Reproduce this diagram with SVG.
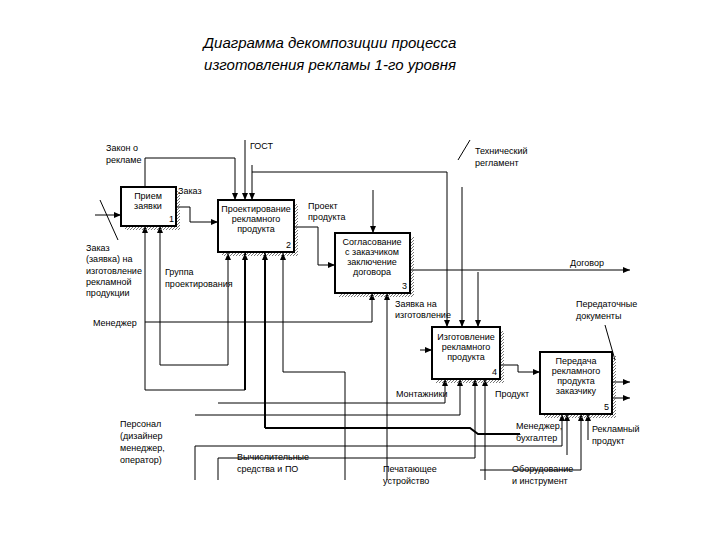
<svg xmlns="http://www.w3.org/2000/svg" width="720" height="540" viewBox="0 0 720 540">
<defs>
<pattern id="h" width="3" height="3" patternUnits="userSpaceOnUse"><path d="M0,3 L3,0" stroke="#555" stroke-width="0.8"/></pattern>
<marker id="a" markerWidth="8" markerHeight="8" refX="7" refY="4" orient="auto" markerUnits="userSpaceOnUse"><path d="M0,1 L7,4 L0,7 z" fill="#000"/></marker>
</defs>
<style>
.b{fill:#fff;stroke:#000;stroke-width:2}
.s{fill:url(#h)}
.t{font-family:"Liberation Sans",Arial,sans-serif;font-size:9px;fill:#000}
.c{text-anchor:middle}
.ttl{font-family:"Liberation Sans",Arial,sans-serif;font-size:15px;font-style:italic;text-anchor:middle}
.l{fill:none;stroke:#000;stroke-width:1}
.k{fill:none;stroke:#000;stroke-width:2}
.ar{marker-end:url(#a)}
</style>
<rect width="720" height="540" fill="#fff"/>
<text class="ttl" x="330" y="48">Диаграмма декомпозиции процесса</text>
<text class="ttl" x="330" y="70">изготовления рекламы 1-го уровня</text>

<g id="connectors">
<path class="l ar" d="M95,215 H121"/>
<path class="l" d="M100,200 L118,240"/>
<path class="l ar" d="M176,207 H190 V222 H218"/>
<path class="l ar" d="M145,187 V158 H235 V200"/>
<path class="l ar" d="M245,140 V200"/>
<path class="l ar" d="M252,172 H447 V327"/>
<path class="l ar" d="M252,165 V200"/>
<path class="l" d="M458,160 L470,140"/>
<path class="l ar" d="M462,187 V327"/>
<path class="l ar" d="M478,272 V327"/>
<path class="l ar" d="M294,227 H318 V265 H335"/>
<path class="l ar" d="M373,190 V233"/>
<path class="l ar" d="M410,270 H630"/>
<path class="l ar" d="M145,322 H372 V293"/>
<path class="l ar" d="M387,480 V293"/>
<path class="l ar" d="M145,390 V226"/>
<path class="l" d="M145,390 H245"/>
<path class="k ar" d="M245,390 V253"/>
<path class="l ar" d="M160,365 V226"/>
<path class="l" d="M160,365 H228"/>
<path class="l ar" d="M228,365 V253"/>
<path class="k ar" d="M265,428 V253"/>
<path class="k" d="M265,428 H470 L478,434 H520"/>
<path class="l ar" d="M283,372 V253"/>
<path class="l" d="M283,372 H345 V480"/>
<path class="l" d="M218,403 H445"/>
<path class="l ar" d="M445,403 V379"/>
<path class="l ar" d="M195,415 H460 V379"/>
<path class="l" d="M195,446 V480 M195,446 H562"/>
<path class="l ar" d="M562,446 V414"/>
<path class="l" d="M218,458 V480 M218,458 H475"/>
<path class="l ar" d="M475,458 V379"/>
<path class="l ar" d="M485,480 V379"/>
<path class="l ar" d="M480,470 H581 V414"/>
<path class="l ar" d="M588,440 V414"/>
<path class="l ar" d="M567,455 V414"/>
<path class="l ar" d="M420,350 H432"/>
<path class="l ar" d="M500,365 H518 V372 H540"/>
<path class="l ar" d="M612,382 H630"/>
<path class="l ar" d="M612,398 H630"/>
<path class="l" d="M605,325 L615,360"/>
</g>

<g id="n1"><rect class="s" x="125" y="191" width="55" height="39"/><rect class="b" x="121" y="187" width="55" height="39"/><text class="t c" x="148" y="199">Прием</text><text class="t c" x="148" y="209">заявки</text><text class="t" x="169" y="222">1</text></g>
<g id="n2"><rect class="s" x="222" y="204" width="76" height="52"/><rect class="b" x="218" y="200" width="76" height="52"/><text class="t c" x="256" y="212">Проектирование</text><text class="t c" x="256" y="222">рекламного</text><text class="t c" x="256" y="232">продукта</text><text class="t" x="286" y="248">2</text></g>
<g id="n3"><rect class="s" x="339" y="237" width="75" height="60"/><rect class="b" x="335" y="233" width="75" height="60"/><text class="t c" x="372" y="245">Согласование</text><text class="t c" x="372" y="255">с заказчиком</text><text class="t c" x="372" y="265">заключение</text><text class="t c" x="372" y="275">договора</text><text class="t" x="402" y="289">3</text></g>
<g id="n4"><rect class="s" x="436" y="331" width="68" height="52"/><rect class="b" x="432" y="327" width="68" height="52"/><text class="t c" x="466" y="340">Изготовление</text><text class="t c" x="466" y="350">рекламного</text><text class="t c" x="466" y="360">продукта</text><text class="t" x="492" y="375">4</text></g>
<g id="n5"><rect class="s" x="544" y="356" width="72" height="62"/><rect class="b" x="540" y="352" width="72" height="62"/><text class="t c" x="576" y="364">Передача</text><text class="t c" x="576" y="374">рекламного</text><text class="t c" x="576" y="384">продукта</text><text class="t c" x="576" y="394">заказчику</text><text class="t" x="604" y="410">5</text></g>

<g id="labels">
<text class="t" x="106" y="151">Закон о</text><text class="t" x="106" y="163">рекламе</text>
<text class="t" x="250" y="149">ГОСТ</text>
<text class="t" x="475" y="154">Технический</text><text class="t" x="475" y="166">регламент</text>
<text class="t" x="178" y="194">Заказ</text>
<text class="t" x="308" y="209">Проект</text><text class="t" x="308" y="220">продукта</text>
<text class="t" x="86" y="251">Заказ</text><text class="t" x="86" y="262">(заявка) на</text><text class="t" x="86" y="274">изготовление</text><text class="t" x="86" y="285">рекламной</text><text class="t" x="86" y="296">продукции</text>
<text class="t" x="165" y="275">Группа</text><text class="t" x="165" y="287">проектирования</text>
<text class="t" x="570" y="266">Договор</text>
<text class="t" x="395" y="307">Заявка на</text><text class="t" x="395" y="318">изготовление</text>
<text class="t" x="576" y="307">Передаточные</text><text class="t" x="576" y="319">документы</text>
<text class="t" x="93" y="326">Менеджер</text>
<text class="t" x="396" y="397">Монтажники</text>
<text class="t" x="495" y="397">Продукт</text>
<text class="t" x="120" y="427">Персонал</text><text class="t" x="120" y="439">(дизайнер</text><text class="t" x="120" y="451">менеджер,</text><text class="t" x="120" y="463">оператор)</text>
<text class="t" x="516" y="429">Менеджер,</text><text class="t" x="516" y="441">бухгалтер</text>
<text class="t" x="592" y="432">Рекламный</text><text class="t" x="592" y="444">продукт</text>
<text class="t" x="237" y="460">Вычислительные</text><text class="t" x="237" y="472">средства и ПО</text>
<text class="t" x="383" y="472">Печатающее</text><text class="t" x="383" y="484">устройство</text>
<text class="t" x="512" y="472">Оборудование</text><text class="t" x="512" y="484">и инструмент</text>
</g>
</svg>
